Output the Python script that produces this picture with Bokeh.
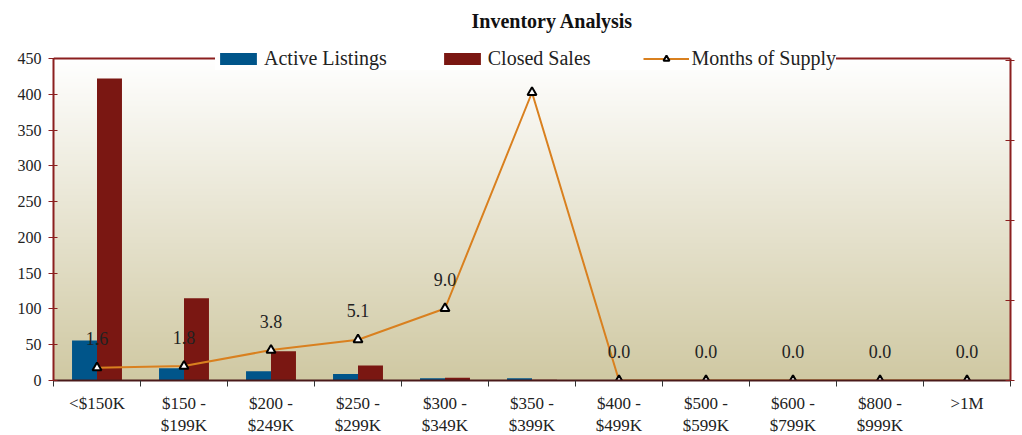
import numpy as np
from bokeh.plotting import figure
from bokeh.models import (Range1d, LinearAxis, FixedTicker, ColumnDataSource,
                          Legend, LegendItem, Title, Span)
from bokeh.core.properties import value
from bokeh.embed import file_html
from bokeh.resources import INLINE

categories = ["<$150K", "$150 -\n$199K", "$200 -\n$249K", "$250 -\n$299K",
              "$300 -\n$349K", "$350 -\n$399K", "$400 -\n$499K", "$500 -\n$599K",
              "$600 -\n$799K", "$800 -\n$999K", ">1M"]
active_listings = [56, 17, 13, 9, 3, 3, 0, 0, 0, 0, 0]
closed_sales = [422, 115, 41, 21, 4, 1, 0, 0, 0, 0, 0]
months_supply = [1.6, 1.8, 3.8, 5.1, 9.0, 36.0, 0.0, 0.0, 0.0, 0.0, 0.0]
supply_labels = ["1.6", "1.8", "3.8", "5.1", "9.0", "", "0.0", "0.0", "0.0", "0.0", "0.0"]
left_ticks = [0, 50, 100, 150, 200, 250, 300, 350, 400, 450]
right_ticks = [0, 10, 20, 30, 40]
left_max = 450
right_max = 40.25

FONT = "Liberation Serif"
BLUE = "#00558A"
RED = "#7A1712"
ORANGE = "#D9801F"
FRAME = "#8B1F1F"

n = len(categories)
centers = [i + 0.5 for i in range(n)]
bounds = list(range(n + 1))
bw = 0.287

# frame: 450 at y=58, 0 at y=380 ; frame top at y=36
FH = 344
px_per_left = 322 / left_max
px_per_right = 322 / right_max
extra_px = 22

p = figure(frame_width=957, frame_height=FH, output_backend="svg", toolbar_location=None,
           x_range=Range1d(0, n),
           y_range=Range1d(0, left_max + extra_px / px_per_left),
           min_border_left=53, min_border_right=6, min_border_top=36, min_border_bottom=54)
p.extra_y_ranges = {"mos": Range1d(0, right_max + extra_px / px_per_right)}

# gradient background
h = 256
top = np.array([255, 255, 255], dtype=float)
bot = np.array([208, 201, 163], dtype=float)
t = np.linspace(0, 1, h)[:, None]
cols = bot * (1 - t) + top * t
img = np.zeros((h, 2), dtype=np.uint32)
view = img.view(dtype=np.uint8).reshape((h, 2, 4))
for j in range(2):
    view[:, j, 0] = cols[:, 0].astype(np.uint8)
    view[:, j, 1] = cols[:, 1].astype(np.uint8)
    view[:, j, 2] = cols[:, 2].astype(np.uint8)
    view[:, j, 3] = 255
p.image_rgba(image=[img], x=0, y=0, dw=n, dh=left_max)

p.add_layout(Span(location=left_max, dimension="width", line_color=FRAME, line_width=2))

src = ColumnDataSource(dict(
    xb=[c - bw / 2 for c in centers], xr=[c + bw / 2 for c in centers], xc=centers,
    active=active_listings, closed=closed_sales, mos=months_supply, lab=supply_labels))

r_active = p.vbar(x="xb", top="active", width=bw, source=src, color=BLUE, line_color=None)
r_closed = p.vbar(x="xr", top="closed", width=bw, source=src, color=RED, line_color=None)
r_line = p.line(x="xc", y="mos", source=src, line_color=ORANGE, line_width=2, y_range_name="mos")
r_pts = p.scatter(x="xc", y="mos", source=src, marker="triangle", size=9,
                  fill_color="white", line_color="black", line_width=2, y_range_name="mos")
p.text(x="xc", y="mos", text="lab", source=src, y_range_name="mos",
       text_align="center", text_baseline="middle", y_offset=-29,
       text_font=value(FONT), text_font_size="18px", text_color="#222222")

p.grid.visible = False
p.background_fill_color = "white"
p.border_fill_color = "white"
p.outline_line_color = None

# x axis
xa = p.xaxis[0]
xa.ticker = FixedTicker(ticks=centers, minor_ticks=bounds)
xa.major_label_overrides = {c: lab for c, lab in zip(centers, categories)}
xa.major_tick_line_color = None
xa.major_tick_in = 0
xa.major_tick_out = 6
xa.minor_tick_in = 0
xa.minor_tick_out = 6
xa.minor_tick_line_color = "#333333"
xa.axis_line_color = "#4a1a1a"
xa.axis_line_width = 2
xa.major_label_text_font = FONT
xa.major_label_text_font_size = "17px"
xa.major_label_text_color = "#222222"
xa.major_label_standoff = 7

# left axis
ya = p.yaxis[0]
ya.ticker = FixedTicker(ticks=left_ticks)
ya.bounds = (0, left_max)
ya.minor_tick_line_color = None
ya.axis_line_color = FRAME
ya.axis_line_width = 2
ya.major_tick_line_color = FRAME
ya.major_tick_in = 4
ya.major_tick_out = 5
ya.major_label_text_font = FONT
ya.major_label_text_font_size = "16px"
ya.major_label_text_color = "#222222"
ya.major_label_standoff = 7

# right axis
ra = LinearAxis(y_range_name="mos", ticker=FixedTicker(ticks=right_ticks))
ra.bounds = (0, right_max)
ra.major_label_overrides = {t_: "" for t_ in right_ticks}
ra.major_label_text_font_size = "1px"
ra.major_label_standoff = 0
ra.minor_tick_line_color = None
ra.axis_line_color = FRAME
ra.axis_line_width = 2
ra.major_tick_line_color = FRAME
ra.major_tick_in = 5
ra.major_tick_out = 4
p.add_layout(ra, "right")

legend = Legend(items=[
    LegendItem(label="Active Listings", renderers=[r_active]),
    LegendItem(label="Closed Sales", renderers=[r_closed]),
    LegendItem(label="Months of Supply", renderers=[r_line, r_pts]),
], orientation="horizontal", location=(162, 380 - 70))
legend.label_text_font = FONT
legend.label_text_font_size = "20px"
legend.label_text_color = "#222222"
legend.label_height = 22
legend.glyph_width = 46
legend.glyph_height = 15
legend.label_standoff = 3
legend.spacing = 52
legend.padding = 2
legend.margin = 0
legend.border_line_color = None
legend.background_fill_color = "white"
legend.background_fill_alpha = 1
p.add_layout(legend, "center")

p.title = Title(text="Inventory Analysis", align="left", offset=418, standoff=10,
                text_font=FONT, text_font_size="20px", text_font_style="bold",
                text_color="#111111")

open("out.html", "w").write(file_html(p, INLINE))
